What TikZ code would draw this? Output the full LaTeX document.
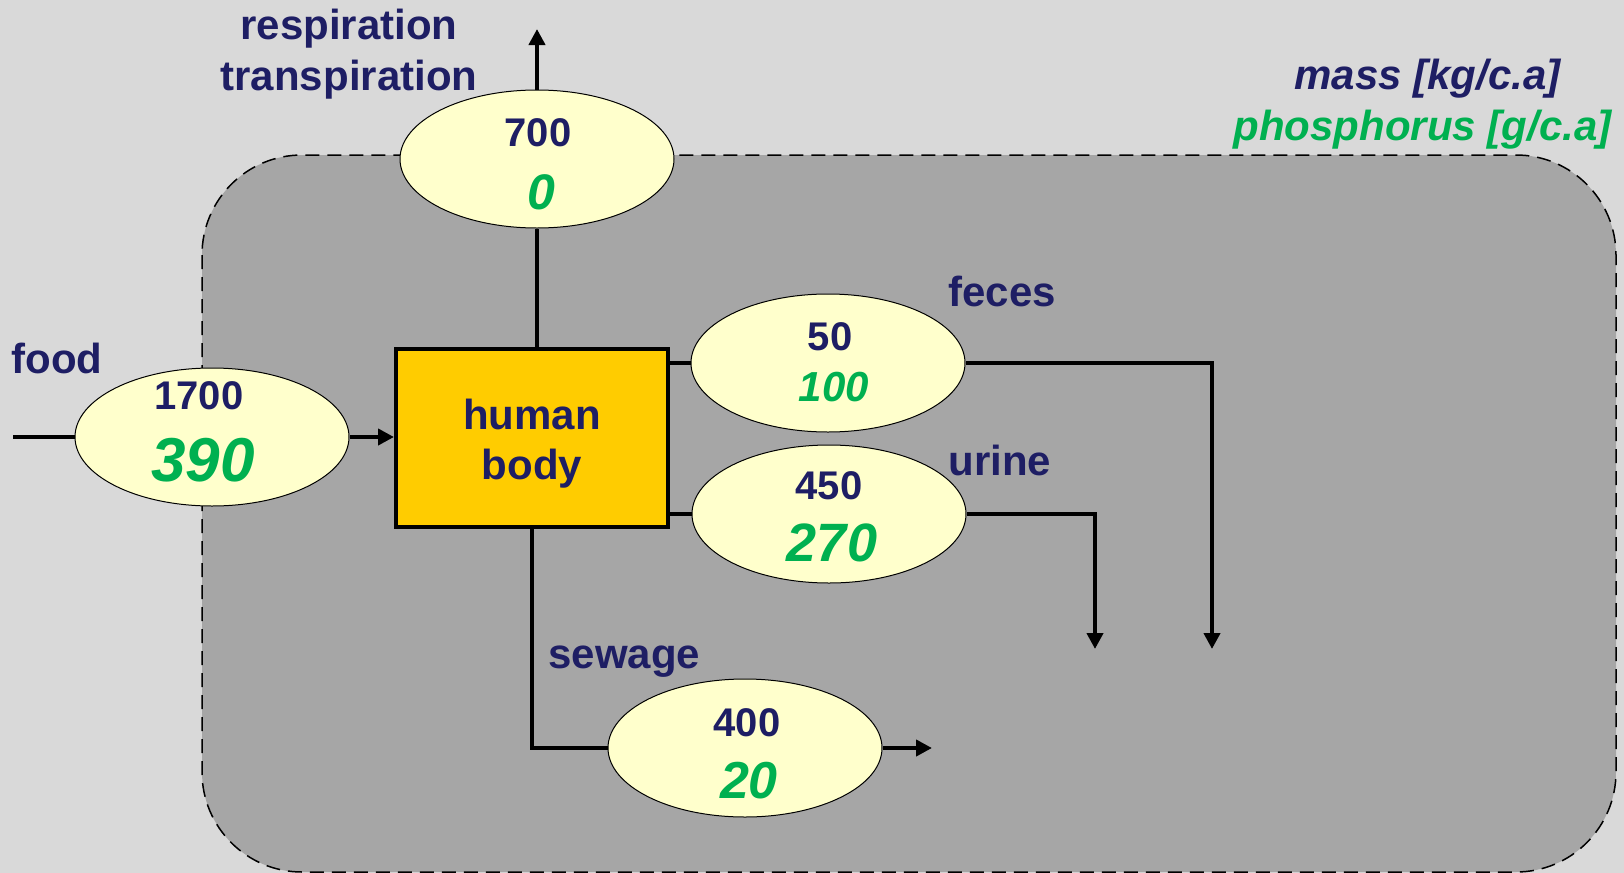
\documentclass[tikz,border=0pt]{standalone}
\usepackage{fontspec}
\setmainfont{Liberation Sans}
\usetikzlibrary{shapes.geometric}
\usetikzlibrary{arrows.meta}

\definecolor{navy}{RGB}{30,30,100}
\definecolor{pgreen}{RGB}{0,176,80}
\definecolor{flowfill}{RGB}{255,255,204}
\definecolor{bodyfill}{RGB}{255,204,0}
\definecolor{paper}{RGB}{217,217,217}
\definecolor{region}{RGB}{166,166,166}

\tikzset{
  flowline/.style = {line width=2pt},
  flowarrow/.style = {flowline, -{Triangle[length=8pt,width=8pt]}},
  boundary/.style = {draw, fill=region, line width=0.75pt, dash pattern=on 7pt off 4pt, rounded corners=50pt},
  flow/.style = {ellipse, draw, line width=0.5pt, fill=flowfill, minimum width=137pt, minimum height=69pt, inner sep=0pt},
  bodybox/.style = {draw, line width=2pt, fill=bodyfill, minimum width=136pt, minimum height=89pt},
  massval/.style = {text=navy, font=\bfseries\fontsize{20}{24}\selectfont, inner sep=0pt},
  pval/.style = {text=pgreen, font=\bfseries\itshape\fontsize{#1}{#1}\selectfont, inner sep=0pt},
  flowlabel/.style = {text=navy, font=\bfseries\fontsize{21}{25}\selectfont, inner sep=0pt},
}

\begin{document}
\begin{tikzpicture}[x=0.5pt, y=-0.5pt]

    \useasboundingbox (0,0) rectangle (1624,873);
    \fill[paper] (0,0) rectangle (1624,873);
    \path[boundary] (202,155) rectangle (1616,872);

    % flows and process
    \node[flow] (resp) at (537,159) {};
    \node[flow] (food) at (212,437) {};
    \node[flow] (feces) at (828,363) {};
    \node[flow] (urine) at (829,514) {};
    \node[flow] (sewage) at (745,748) {};
    \node[bodybox] (body) at (532,438) {};
    \node[flowlabel, align=center] (bodytext) at (532,444) {human\\body};

    \coordinate (foodin) at (13,437);
    \coordinate (respout) at (537,29);
    \coordinate (fecesout) at (1212,649);
    \coordinate (urineout) at (1095,649);
    \coordinate (sewageout) at (932,748);

    \draw[flowline] (foodin) -- (food.west);
    \draw[flowarrow] (food.east) -- (food.east -| body.west);
    \draw[flowline] (body.north -| resp) -- (resp.south);
    \draw[flowarrow] (resp.north) -- (respout);
    \draw[flowline] (body.east |- feces) -- (feces.west);
    \draw[flowarrow] (feces.east) -| (fecesout);
    \draw[flowline] (body.east |- urine) -- (urine.west);
    \draw[flowarrow] (urine.east) -| (urineout);
    \draw[flowline] (body.south) |- (sewage.west);
    \draw[flowarrow] (sewage.east) -- (sewageout);

    % values
    \node[massval] (respmass) at (538,133) {700};
    \node[pval=25] (respp) at (541,192) {0};
    \node[massval] (foodmass) at (199,396) {1700};
    \node[pval=31] (foodp) at (203,460) {390};
    \node[massval] (fecesmass) at (830,337) {50};
    \node[pval=21] (fecesp) at (834,387) {100};
    \node[massval] (urinemass) at (829,486) {450};
    \node[pval=27] (urinep) at (832,543) {270};
    \node[massval] (sewagemass) at (747,723) {400};
    \node[pval=26] (sewagep) at (749,781) {20};

    % labels
    \node[flowlabel, anchor=base] (resplabel) at (349,39) {respiration};
    \node[flowlabel, anchor=base] (transplabel) at (349,90) {transpiration};
    \node[flowlabel, anchor=base west] (foodlabel) at (11,373) {food};
    \node[flowlabel, anchor=base west] (feceslabel) at (948,306) {feces};
    \node[flowlabel, anchor=base west] (urinelabel) at (948,475) {urine};
    \node[flowlabel, anchor=base west] (sewagelabel) at (548,668) {sewage};
    \node[flowlabel, font=\bfseries\itshape\fontsize{21}{25}\selectfont, anchor=base east] (masslegend) at (1561,89) {mass [kg/c.a]};
    \node[flowlabel, text=pgreen, font=\bfseries\itshape\fontsize{21}{25}\selectfont, anchor=base east] (phoslegend) at (1612,140) {phosphorus [g/c.a]};

\end{tikzpicture}
\end{document}
